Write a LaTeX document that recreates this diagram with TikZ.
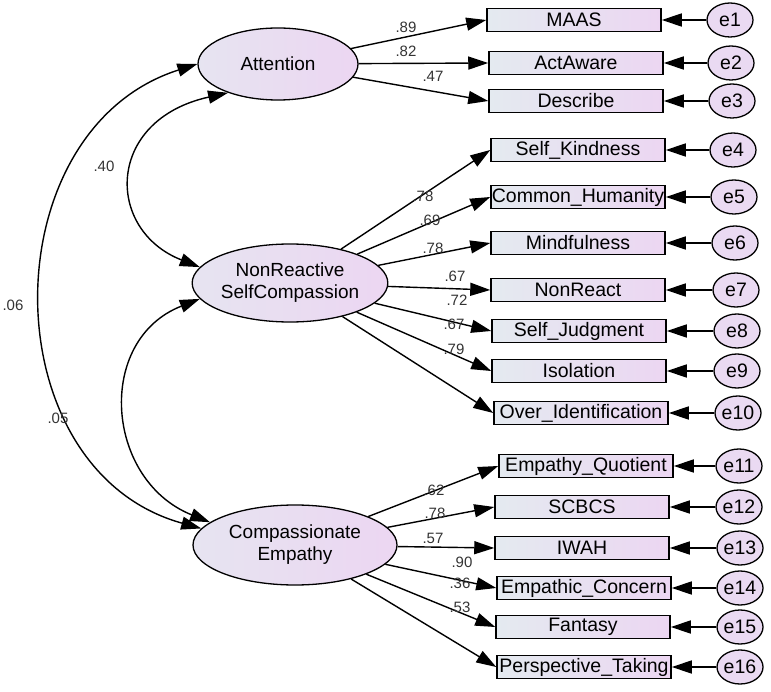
\documentclass[tikz,border=0pt]{standalone}
\usepackage{fontspec}
\setmainfont{Liberation Sans}
\usetikzlibrary{shapes.geometric,arrows.meta}
\definecolor{bl}{RGB}{228,234,240}
\definecolor{pk}{RGB}{236,214,242}
\begin{document}
\begin{tikzpicture}[x=1pt,y=-1pt,
 box/.style={draw,line width=1.5pt,minimum width=174pt,minimum height=23pt,left color=bl,right color=pk,font=\fontsize{19.5}{21}\selectfont,inner sep=0pt},
 lat/.style={ellipse,draw,line width=1.3pt,left color=bl!70!pk,right color=pk,font=\fontsize{19}{22}\selectfont,align=center,inner sep=0pt},
 err/.style={ellipse,draw,line width=1.3pt,fill=pk!80!bl,minimum width=46pt,minimum height=34pt,font=\fontsize{19.5}{21}\selectfont,inner sep=0pt},
 arr/.style={-{Triangle[length=20pt,width=13pt]},line width=1.4pt},
 dbl/.style={{Triangle[length=20pt,width=13pt]}-{Triangle[length=20pt,width=13pt]},line width=1.4pt},
 lab/.style={font=\fontsize{15}{16}\selectfont,inner sep=0pt,text=black!80}]
\useasboundingbox (0,0) rectangle (771,692);
\node[lat,minimum width=160pt,minimum height=72pt] (att) at (278,64) {Attention};
\node[lat,minimum width=194pt,minimum height=78pt] (nrs) at (290,283) {NonReactive\\SelfCompassion};
\node[lat,minimum width=204pt,minimum height=80pt] (ce) at (295,545) {Compassionate\\Empathy};
\foreach \n/\t/\x/\y/\e/\ex in {
 b1/MAAS/574/20/e1/730, b2/ActAware/576/63/e2/731, b3/Describe/576/101/e3/732,
 b4/Self\_Kindness/578/150/e4/733, b5/Common\_Humanity/578/197/e5/734, b6/Mindfulness/578/243/e6/735,
 b7/NonReact/578/290/e7/736, b8/Self\_Judgment/579/331/e8/737, b9/Isolation/579/371/e9/737,
 b10/Over\_Identification/581/413/e10/738, b11/Empathy\_Quotient/586/466/e11/739, b12/SCBCS/582/507/e12/739,
 b13/IWAH/582/548/e13/740, b14/Empathic\_Concern/584/588/e14/740, b15/Fantasy/583/627/e15/740, b16/Perspective\_Taking/584/667/e16/740}
{
 \node[box] (\n) at (\x,\y) {\t};
 \node[err] (\e) at (\ex,\y) {\e};
 \draw[arr] (\e) -- (\n);
}
\foreach \b in {b1,b2,b3} \draw[arr] (att) -- (\b.west);
\foreach \b in {b4,b5,b6,b7,b8,b9,b10} \draw[arr] (nrs) -- (\b.west);
\foreach \b in {b11,b12,b13,b14,b15,b16} \draw[arr] (ce) -- (\b.west);
\node[lab] (l1) at (406,27) {.89};
\node[lab] (l2) at (406,51) {.82};
\node[lab] (l3) at (433,76) {.47};
\node[lab] (l4) at (423,196) {.78};
\node[lab] (l5) at (430,220) {.69};
\node[lab] (l6) at (433,248) {.78};
\node[lab] (l7) at (455,276) {.67};
\node[lab] (l8) at (457,300) {.72};
\node[lab] (l9) at (454,324) {.67};
\node[lab] (l10) at (454,349) {.79};
\node[lab] (l11) at (434,490) {.62};
\node[lab] (l12) at (435,513) {.78};
\node[lab] (l13) at (433,538) {.57};
\node[lab] (l14) at (462,562) {.90};
\node[lab] (l15) at (460,583) {.36};
\node[lab] (l16) at (460,607) {.53};
\draw[dbl] (att.-150) .. controls (105,120) and (105,230) .. (nrs.170);
\draw[dbl] (att.west) .. controls (-10,130) and (-10,470) .. (ce.170);
\draw[dbl] (nrs.-170) .. controls (95,340) and (105,480) .. (ce.165);
\node[lab] (c1) at (104,166) {.40};
\node[lab] (c2) at (13,305) {.06};
\node[lab] (c3) at (58,418) {.05};
\end{tikzpicture}
\end{document}
